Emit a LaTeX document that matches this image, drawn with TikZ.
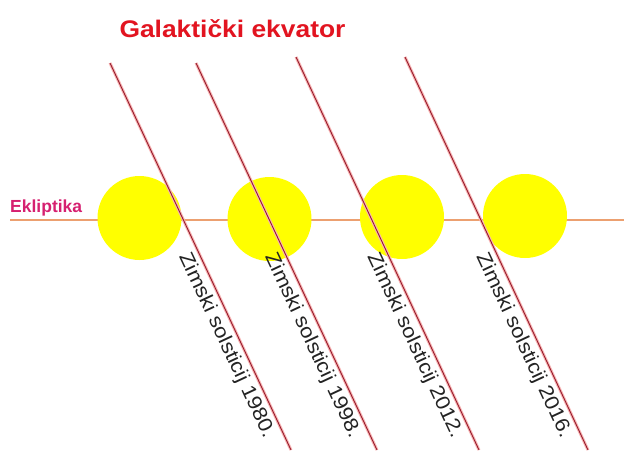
\documentclass[tikz,border=0pt]{standalone}
\usepackage{fontspec}
\setmainfont{Liberation Sans}
\usepackage{graphicx}
\definecolor{titlered}{RGB}{226,20,32}
\definecolor{eklpink}{RGB}{214,32,112}
\definecolor{ecl}{RGB}{236,160,112}
\definecolor{galcore}{RGB}{150,28,44}
\definecolor{galhalo}{RGB}{248,180,180}
\definecolor{labgray}{RGB}{35,35,35}
\definecolor{sunyellow}{RGB}{255,255,0}
\tikzset{
  sun/.style={circle, fill=sunyellow, minimum size=84pt, inner sep=0pt},
  eclline/.style={draw=ecl, line width=1.8pt},
  galline/.style={draw=galcore, line width=0.9pt, preaction={draw=galhalo, line width=3pt}},
  sollab/.style={sloped, anchor=north west, inner xsep=0pt, inner ysep=5pt, text=labgray,
    font=\fontsize{20}{20}\selectfont},
}
\begin{document}
\begin{tikzpicture}[x=1pt,y=-1pt]
\fill[white] (0,0) rectangle (624,450);
\useasboundingbox (0,0) rectangle (624,450);

\node[anchor=base, inner sep=0pt, text=titlered, font=\bfseries\fontsize{24}{24}\selectfont]
  (title) at (232.5,37) {\scalebox{1.1}[1]{Galaktički ekvator}};

\node[anchor=base west, inner sep=0pt, text=eklpink, font=\bfseries\fontsize{17.5}{17.5}\selectfont]
  (ekl) at (10,212) {Ekliptika};

\coordinate (eL) at (10,220);
\coordinate (eR) at (624,220);
\draw[eclline] (eL) -- (eR);

\node[sun] (s1) at (139.5,218) {};
\node[sun] (s2) at (269.5,219) {};
\node[sun] (s3) at (402,217) {};
\node[sun] (s4) at (525,216) {};

\coordinate (t1) at (110,63);  \coordinate (b1) at (291,450);
\coordinate (t2) at (196,63);  \coordinate (b2) at (377,450);
\coordinate (t3) at (296,57);  \coordinate (b3) at (479,450);
\coordinate (t4) at (405,57);  \coordinate (b4) at (588,450);

\draw[galline] (t1) -- (b1);
\draw[galline] (t2) -- (b2);
\draw[galline] (t3) -- (b3);
\draw[galline] (t4) -- (b4);

\path (t1) -- (b1) node[sollab, pos=0.478] (l1) {\scalebox{1.1}[1]{Zimski solsticij 1980.}};
\path (t2) -- (b2) node[sollab, pos=0.478] (l2) {\scalebox{1.1}[1]{Zimski solsticij 1998.}};
\path (t3) -- (b3) node[sollab, pos=0.486] (l3) {\scalebox{1.1}[1]{Zimski solsticij 2012.}};
\path (t4) -- (b4) node[sollab, pos=0.486] (l4) {\scalebox{1.1}[1]{Zimski solsticij 2016.}};
\end{tikzpicture}
\end{document}
